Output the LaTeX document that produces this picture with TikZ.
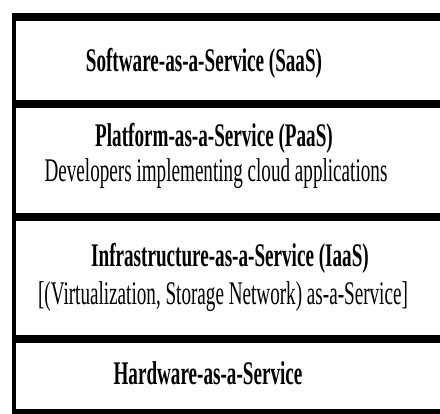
\documentclass[tikz,border=0pt]{standalone}
\usepackage{fontspec}
\newfontfamily\layerfont[FakeStretch=0.58]{Liberation Serif}

\begin{document}
\begin{tikzpicture}[x=1pt, y=1pt,
		rule/.style={line width=8pt, color=black},
		title/.style={anchor=base, inner sep=0pt, font=\layerfont\bfseries\fontsize{33}{37}\selectfont},
		note/.style={anchor=base, inner sep=0pt, font=\layerfont\fontsize{33}{37}\selectfont}]
			%%%%% START %%%%%
			
			\useasboundingbox (0, 0) rectangle (440, 414);
			
			\draw[line width=4pt, color=black] (13.7, 401) -- (13.7, -10);
			
			\draw[rule] (11.7, 396.8) -- (460, 396.8);
			\draw[rule] (11.7, 310) -- (460, 310);
			\draw[rule] (11.7, 197.3) -- (460, 197.3);
			\draw[rule] (11.7, 75) -- (460, 75);
			\draw[rule] (11.7, 0.5) -- (460, 0.5);
			
			\node[title] (saas) at (204, 342) {Software-as-a-Service (SaaS)};
			
			\node[title] (paas) at (214, 267) {Platform-as-a-Service (PaaS)};
			\node[note] (paasnote) at (216, 232) {Developers implementing cloud applications};
			
			\node[title] (iaas) at (230, 147) {Infrastructure-as-a-Service (IaaS)};
			\node[note] (iaasnote) at (223, 109) {[(Virtualization, Storage Network) as-a-Service]};
			
			\node[title] (haas) at (208, 29) {Hardware-as-a-Service};
			
			%%%%% END %%%%%
\end{tikzpicture}
\end{document}
